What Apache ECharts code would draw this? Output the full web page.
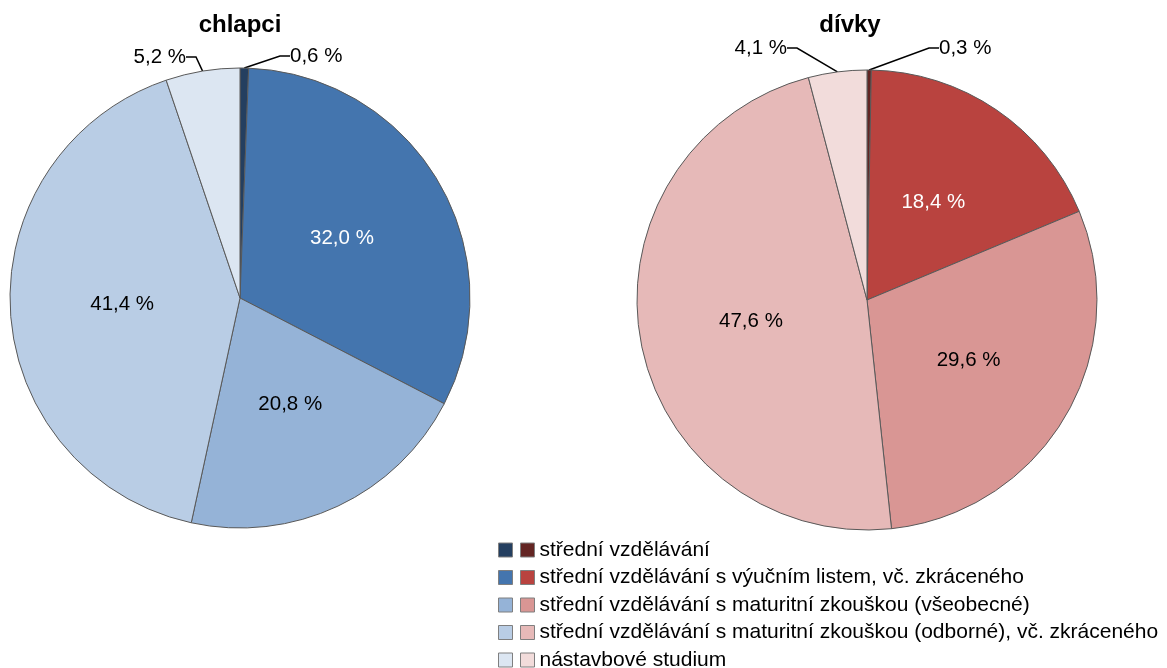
<!DOCTYPE html>
<html><head><meta charset="utf-8">
<script src="https://cdn.jsdelivr.net/npm/echarts@6/dist/echarts.min.js"></script>
<style>html,body{margin:0;padding:0;background:#fff}#c{width:1167px;height:668px}</style>
</head><body><div id="c"></div>
<script>
const categories = [
  'střední vzdělávání',
  'střední vzdělávání s výučním listem, vč. zkráceného',
  'střední vzdělávání s maturitní zkouškou (všeobecné)',
  'střední vzdělávání s maturitní zkouškou (odborné), vč. zkráceného',
  'nástavbové studium'
];
const titles = ['chlapci', 'dívky'];
const boysValues = [0.6, 32.0, 20.8, 41.4, 5.2];
const girlsValues = [0.3, 18.4, 29.6, 47.6, 4.1];
const blueColors = ['#243f60', '#4475ae', '#95b3d7', '#b9cde5', '#dce6f2'];
const redColors = ['#632523', '#b9433f', '#d99694', '#e6b9b8', '#f2dcdb'];

const FONT = 'Liberation Sans, Arial, sans-serif';
const fmt = v => v.toFixed(1).replace('.', ',') + ' %';

// outside label anchor positions (layout only)
const boysOutside = {0: {x: 290, y: 56, align: 'left'}, 4: {x: 186, y: 57, align: 'right'}};
const girlsOutside = {0: {x: 939, y: 48, align: 'left'}, 4: {x: 787, y: 48, align: 'right'}};

function makeSeries(values, colors, center, outside, whiteIdx) {
  return {
    type: 'pie',
    center: center,
    radius: 230,
    startAngle: 90,
    clockwise: true,
    avoidLabelOverlap: false,
    silent: true,
    animation: false,
    data: values.map((v, i) => ({
      name: categories[i],
      value: v,
      itemStyle: {color: colors[i]},
      label: outside[i] ? {position: 'outside', color: '#000'} : {position: 'inside', color: whiteIdx.includes(i) ? '#fff' : '#000'},
      labelLine: outside[i] ? {show: true, length: 8, length2: 10} : {show: false}
    })),
    itemStyle: {borderColor: '#595959', borderWidth: 1},
    label: {
      show: true,
      fontFamily: FONT,
      fontSize: 20.5,
      formatter: p => fmt(p.value)
    },
    labelLine: {lineStyle: {color: '#000', width: 1.5}},
    labelLayout: function (p) {
      const o = outside[p.dataIndex];
      if (o) return {x: o.x, y: o.y, align: o.align, verticalAlign: 'middle'};
      return {};
    }
  };
}

function makeLegend(left, colors, showText) {
  return {
    orient: 'vertical',
    left: left,
    top: 533,
    height: 200,
    itemWidth: 14,
    itemHeight: 14,
    itemGap: 3.5,
    itemTextGap: 11,
    itemStyle: {borderColor: '#7f7f7f', borderWidth: 1},
    icon: 'rect',
    selectedMode: false,
    textStyle: {fontFamily: FONT, fontSize: 21, color: showText ? '#000' : 'rgba(0,0,0,0)', lineHeight: 24},
    data: categories.map((c, i) => ({name: c, itemStyle: {color: colors[i]}}))
  };
}

const chart = echarts.init(document.getElementById('c'));
chart.setOption({
  backgroundColor: '#fff',
  animation: false,
  title: [
    {text: titles[0], left: 235, top: 8, textAlign: 'center', textStyle: {fontFamily: FONT, fontSize: 24, fontWeight: 'bold', color: '#000'}},
    {text: titles[1], left: 845, top: 8, textAlign: 'center', textStyle: {fontFamily: FONT, fontSize: 24, fontWeight: 'bold', color: '#000'}}
  ],
  legend: [makeLegend(493, blueColors, false), makeLegend(515, redColors, true)],
  series: [
    makeSeries(boysValues, blueColors, [240, 298], boysOutside, [1]),
    makeSeries(girlsValues, redColors, [867, 300], girlsOutside, [1])
  ]
});
</script></body></html>
